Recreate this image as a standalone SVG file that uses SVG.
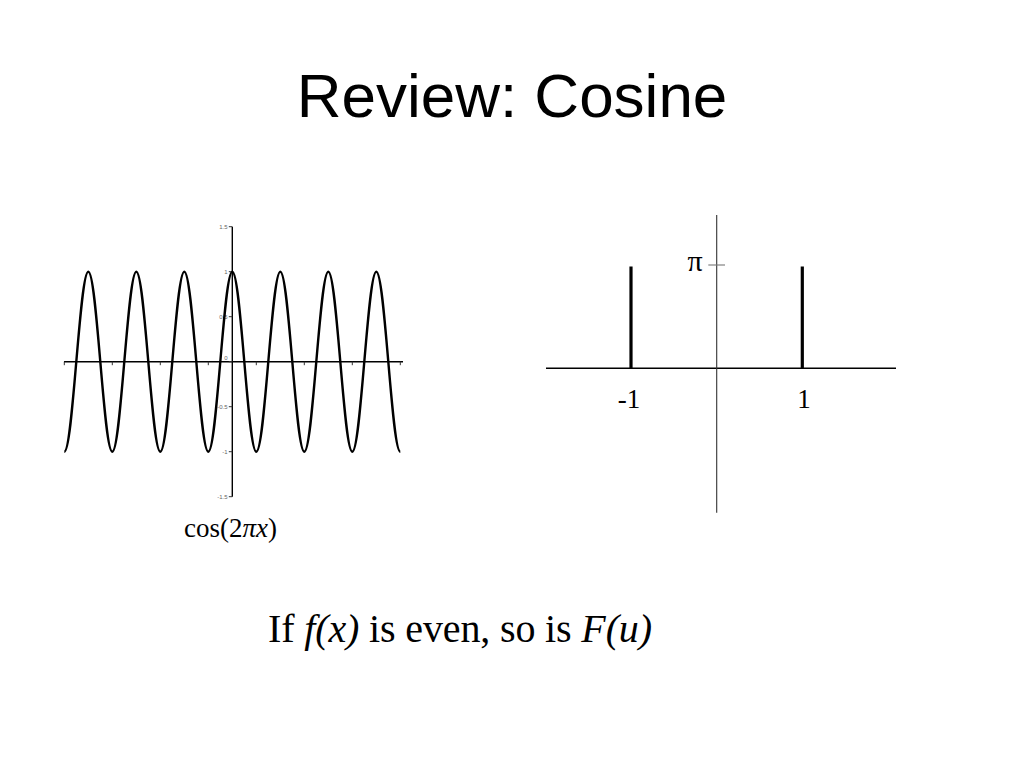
<svg xmlns="http://www.w3.org/2000/svg" width="1024" height="768" viewBox="0 0 1024 768">
<style>
.title{font-family:"Liberation Sans",Arial,sans-serif;font-size:62px;fill:#000}
.serif{font-family:"Liberation Serif","Times New Roman",serif;fill:#000}
.tl{font-family:"Liberation Sans",Arial,sans-serif;font-size:6px;fill:#666;text-anchor:end}
.ax{stroke:#000;stroke-width:1.4;fill:none}
.tk{stroke:#333;stroke-width:1;fill:none}
.spike{stroke:#000;stroke-width:3.2;fill:none}
</style>
<rect width="1024" height="768" fill="#fff"/>
<text id="title" class="title" x="512" y="117" text-anchor="middle">Review: Cosine</text>

<g id="left-plot">
  <g id="left-axes">
    <line class="ax" x1="64" y1="361.7" x2="403" y2="361.7"/>
    <line class="ax" x1="232.3" y1="226.7" x2="232.3" y2="496.7" stroke-width="1.8"/>
    <path class="tk" d="M64.3 361.7v3.5M112.3 361.7v3.5M160.3 361.7v3.5M208.3 361.7v3.5M256.3 361.7v3.5M304.3 361.7v3.5M352.3 361.7v3.5M400.3 361.7v3.5"/>
    <path class="tk" d="M228.8 226.7h3.5M228.8 271.7h3.5M228.8 316.7h3.5M228.8 361.7h3.5M228.8 406.7h3.5M228.8 451.7h3.5M228.8 496.7h3.5"/>
  </g>
  <g id="left-tick-labels">
    <text class="tl" x="227.5" y="228.8">1.5</text>
    <text class="tl" x="227.5" y="273.8">1</text>
    <text class="tl" x="227.5" y="318.8">0.5</text>
    <text class="tl" x="227.5" y="359.5">0</text>
    <text class="tl" x="227.5" y="408.8">-0.5</text>
    <text class="tl" x="227.5" y="453.8">-1</text>
    <text class="tl" x="227.5" y="498.8">-1.5</text>
  </g>
  <path id="cosine-curve" fill="none" stroke="#000" stroke-width="2.4" stroke-linejoin="round" d="M64.3 451.7
    c4.343,0 8.086,-43.89 12,-90 c3.914,-46.11 7.657,-90 12,-90 c4.343,0 8.086,43.89 12,90 c3.914,46.11 7.657,90 12,90
    c4.343,0 8.086,-43.89 12,-90 c3.914,-46.11 7.657,-90 12,-90 c4.343,0 8.086,43.89 12,90 c3.914,46.11 7.657,90 12,90
    c4.343,0 8.086,-43.89 12,-90 c3.914,-46.11 7.657,-90 12,-90 c4.343,0 8.086,43.89 12,90 c3.914,46.11 7.657,90 12,90
    c4.343,0 8.086,-43.89 12,-90 c3.914,-46.11 7.657,-90 12,-90 c4.343,0 8.086,43.89 12,90 c3.914,46.11 7.657,90 12,90
    c4.343,0 8.086,-43.89 12,-90 c3.914,-46.11 7.657,-90 12,-90 c4.343,0 8.086,43.89 12,90 c3.914,46.11 7.657,90 12,90
    c4.343,0 8.086,-43.89 12,-90 c3.914,-46.11 7.657,-90 12,-90 c4.343,0 8.086,43.89 12,90 c3.914,46.11 7.657,90 12,90
    c4.343,0 8.086,-43.89 12,-90 c3.914,-46.11 7.657,-90 12,-90 c4.343,0 8.086,43.89 12,90 c3.914,46.11 7.657,90 12,90"/>
  <text id="left-caption" class="serif" x="230.5" y="537" font-size="27" text-anchor="middle">cos(2<tspan font-style="italic">πx</tspan>)</text>
</g>

<g id="right-plot">
  <line class="ax" x1="546" y1="368.3" x2="896" y2="368.3" stroke-width="1.3"/>
  <line x1="716.7" y1="215" x2="716.7" y2="512.7" stroke="#333" stroke-width="1.1"/>
  <line x1="708.3" y1="265" x2="725" y2="265" stroke="#777" stroke-width="1.1"/>
  <line id="spike-neg" class="spike" x1="631" y1="266.5" x2="631" y2="368.3"/>
  <line id="spike-pos" class="spike" x1="802.3" y1="266.5" x2="802.3" y2="368.3"/>
  <text class="serif" x="695" y="270.5" font-size="30" text-anchor="middle">π</text>
  <text class="serif" x="629" y="407.5" font-size="27" text-anchor="middle">-1</text>
  <text class="serif" x="804" y="407.5" font-size="27" text-anchor="middle">1</text>
</g>

<text id="statement" class="serif" x="268" y="642" font-size="40" textLength="384" lengthAdjust="spacing">If <tspan font-style="italic">f(x)</tspan> is even, so is <tspan font-style="italic">F(u)</tspan></text>
</svg>
